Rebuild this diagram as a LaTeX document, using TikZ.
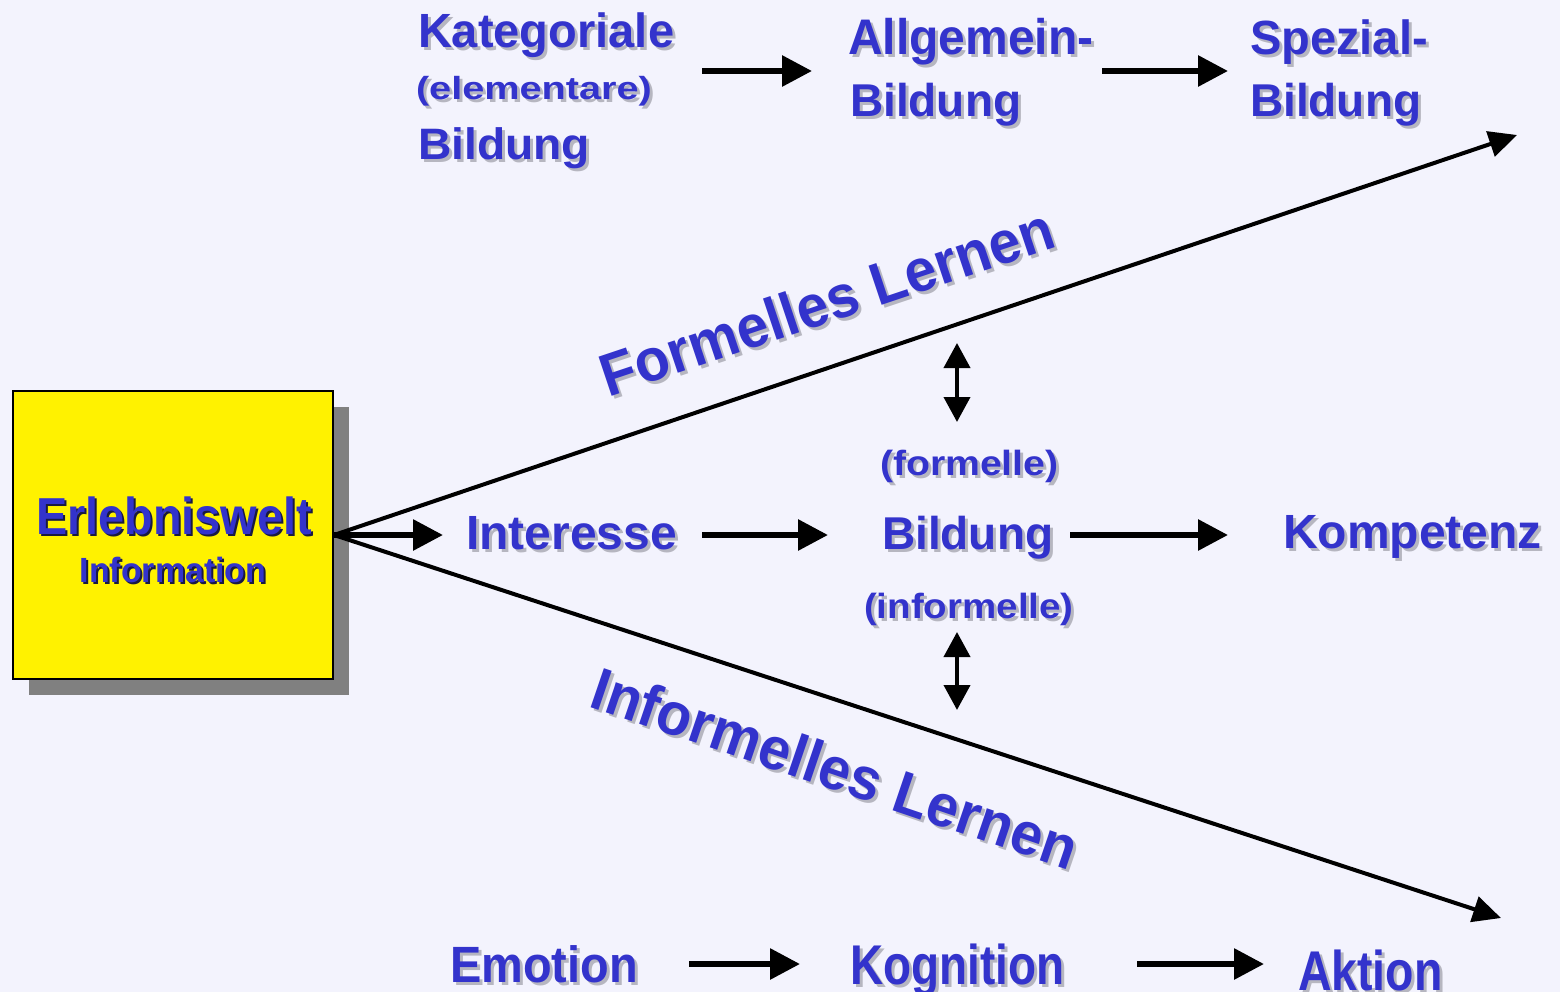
\documentclass[tikz,border=0pt]{standalone}
\usepackage{fontspec}
\setmainfont{Liberation Sans}
\usetikzlibrary{arrows.meta}

\definecolor{bg}{HTML}{F3F3FD}
\definecolor{ink}{HTML}{3333CC}
\definecolor{shade}{HTML}{B6B6C0}
\definecolor{boxshade}{HTML}{808080}
\definecolor{darkshade}{HTML}{1A1A40}

% bold font at a given size, optionally squeezed or stretched horizontally
\newcommand\fsz[1]{\fontsize{#1}{#1}\selectfont\bfseries}
\newcommand\sx[2]{\scalebox{#1}[1]{#2}}

\tikzset{
  lbl/.style={inner sep=0pt, outer sep=0pt, anchor=base west, text=ink},
  ctr/.style={inner sep=0pt, outer sep=0pt, anchor=base, text=ink},
  harr/.style={line width=6pt, -{Triangle[length=30pt,width=30pt]}},
  diag/.style={line width=4pt, -{Triangle[length=28pt,width=26pt]}},
  both/.style={line width=4pt, {Triangle[length=25pt,width=26pt]}-{Triangle[length=25pt,width=26pt]}},
  box/.style={draw=black, line width=2pt, fill=yellow, minimum width=320pt, minimum height=288pt, inner sep=0pt},
}

% text with a soft shadow down and to the right
\newcommand\shlabel[4][]{%
  \node[lbl,xshift=3pt,yshift=-3pt,#1,text=shade] (#2-sh) at #3 {#4};
  \node[lbl,#1] (#2) at #3 {#4};}

\begin{document}
\begin{tikzpicture}[x=1pt,y=-1pt]
\useasboundingbox (0,0) rectangle (1560,992);
\fill[bg] (0,0) rectangle (1560,992);

% source box with its drop shadow
\fill[boxshade] (29,407) rectangle (349,695);
\node[box] (ew) at (173,535) {};
\node[ctr,xshift=2pt,yshift=-2pt,text=darkshade] (ew-t1-sh) at (174,534) {\fsz{52}\sx{0.9}{Erlebniswelt}};
\node[ctr] (ew-t1) at (174,534) {\fsz{52}\sx{0.9}{Erlebniswelt}};
\node[ctr,xshift=2pt,yshift=-2pt,text=darkshade] (ew-t2-sh) at (173,582) {\fsz{35}\sx{0.97}{Information}};
\node[ctr] (ew-t2) at (173,582) {\fsz{35}\sx{0.97}{Information}};

% top row
\shlabel{kat}{(418,48)}{\fsz{48}\sx{0.98}{Kategoriale}}
\shlabel{elem}{(416,100)}{\fsz{32}\sx{1.24}{(elementare)}}
\shlabel{katb}{(418,160)}{\fsz{44}\sx{1.05}{Bildung}}
\shlabel{allg}{(848,55)}{\fsz{50}\sx{0.96}{Allgemein-}}
\shlabel{allgb}{(850,117)}{\fsz{46}Bildung}
\shlabel{spez}{(1250,55)}{\fsz{48}\sx{0.98}{Spezial-}}
\shlabel{spezb}{(1250,117)}{\fsz{46}Bildung}

% middle row
\shlabel{int}{(466,549)}{\fsz{48}Interesse}
\shlabel{form}{(880,475)}{\fsz{35}\sx{1.12}{(formelle)}}
\shlabel{bild}{(882,549)}{\fsz{46}Bildung}
\shlabel{inf}{(864,618)}{\fsz{35}\sx{1.1}{(informelle)}}
\shlabel{komp}{(1283,548)}{\fsz{48}Kompetenz}

% bottom row
\shlabel{emo}{(450,982)}{\fsz{51}\sx{0.92}{Emotion}}
\shlabel{kog}{(850,984)}{\fsz{56}\sx{0.82}{Kognition}}
\shlabel{akt}{(1298,990)}{\fsz{56}\sx{0.83}{Aktion}}

% slanted path labels
\shlabel[rotate=18.5]{flern}{(608,397)}{\fsz{60}\sx{0.95}{Formelles Lernen}}
\shlabel[rotate=-18.8]{ilern}{(587,706)}{\fsz{60}\sx{0.95}{Informelles Lernen}}

% arrow end points
\coordinate (fl-end) at (1517,135);
\coordinate (il-end) at (1501,918);
\coordinate (int-in) at (443,535);
\coordinate (a1s) at (702,71);   \coordinate (a1e) at (812,71);
\coordinate (a2s) at (1102,71);  \coordinate (a2e) at (1228,71);
\coordinate (a3s) at (702,535);  \coordinate (a3e) at (828,535);
\coordinate (a4s) at (1070,535); \coordinate (a4e) at (1228,535);
\coordinate (a5s) at (689,964);  \coordinate (a5e) at (800,964);
\coordinate (a6s) at (1137,964); \coordinate (a6e) at (1264,964);
\coordinate (d1a) at (957,343);  \coordinate (d1b) at (957,422);
\coordinate (d2a) at (957,632);  \coordinate (d2b) at (957,710);

% connectors
\draw[diag] (ew.east) -- (fl-end);
\draw[diag] (ew.east) -- (il-end);
\draw[harr] (ew.east) -- (int-in);
\draw[harr] (a1s) -- (a1e);
\draw[harr] (a2s) -- (a2e);
\draw[harr] (a3s) -- (a3e);
\draw[harr] (a4s) -- (a4e);
\draw[harr] (a5s) -- (a5e);
\draw[harr] (a6s) -- (a6e);
\draw[both] (d1a) -- (d1b);
\draw[both] (d2a) -- (d2b);
\end{tikzpicture}
\end{document}
